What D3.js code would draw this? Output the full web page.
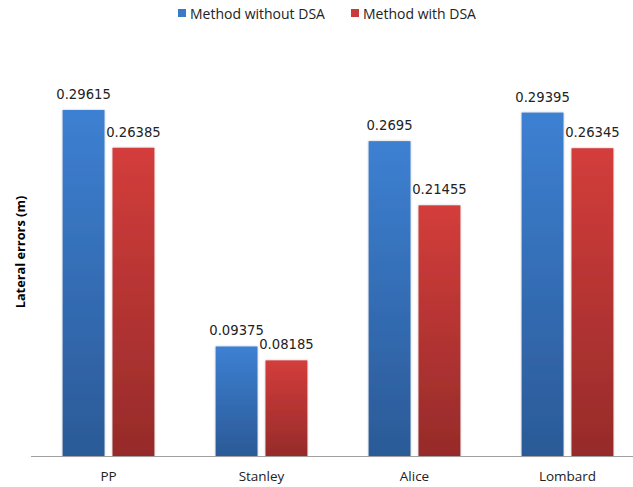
<!DOCTYPE html>
<html>
<head>
<meta charset="utf-8">
<script src="https://cdn.jsdelivr.net/npm/d3@7"></script>
<style>
  html, body { margin: 0; padding: 0; background: #fff; }
  svg { display: block; }
</style>
</head>
<body>
<svg id="chart" width="633" height="487"></svg>
<script>
const categories = ["PP", "Stanley", "Alice", "Lombard"];
const seriesNames = ["Method without DSA", "Method with DSA"];
const withoutDSA = [0.29615, 0.09375, 0.2695, 0.29395];
const withDSA = [0.26385, 0.08185, 0.21455, 0.26345];
const labelWithout = ["0.29615", "0.09375", "0.2695", "0.29395"];
const labelWith = ["0.26385", "0.08185", "0.21455", "0.26345"];

const svg = d3.select("#chart");
const W = 633, H = 487;
const baseY = 456;

const defs = svg.append("defs");
const grads = [
  {id: "gBlue", top: "#3d80d2", bot: "#2b5a97"},
  {id: "gRed", top: "#d33d3b", bot: "#962b2a"}
];
grads.forEach(g => {
  const lg = defs.append("linearGradient").attr("id", g.id)
    .attr("x1", 0).attr("y1", 0).attr("x2", 0).attr("y2", 1);
  lg.append("stop").attr("offset", "0%").attr("stop-color", g.top);
  lg.append("stop").attr("offset", "100%").attr("stop-color", g.bot);
});
const f = defs.append("filter").attr("id", "shadow")
  .attr("x", "-20%").attr("y", "-5%").attr("width", "140%").attr("height", "110%");
f.append("feDropShadow").attr("dx", 0).attr("dy", 0).attr("stdDeviation", 1.2)
  .attr("flood-color", "#000").attr("flood-opacity", 0.25);

const x0 = d3.scaleBand().domain(categories).range([32, 644])
  .paddingInner(0.4).paddingOuter(0.2);
const x1 = d3.scaleBand().domain(seriesNames).range([0, x0.bandwidth()])
  .paddingInner(0.16);
const y = d3.scaleLinear().domain([0, 0.35]).range([baseY, baseY - 0.35 * 1168.3]);

const colors = ["url(#gBlue)", "url(#gRed)"];
const swatch = ["#3a78c8", "#c93a38"];

const data = [];
categories.forEach((c, i) => {
  data.push({cat: c, s: seriesNames[0], v: withoutDSA[i], lab: labelWithout[i], k: 0});
  data.push({cat: c, s: seriesNames[1], v: withDSA[i], lab: labelWith[i], k: 1});
});

const g = svg.append("g");
g.selectAll("rect.bar").data(data).enter().append("rect")
  .attr("class", "bar")
  .attr("x", d => x0(d.cat) + x1(d.s))
  .attr("y", d => y(d.v))
  .attr("width", x1.bandwidth())
  .attr("height", d => baseY - y(d.v))
  .attr("fill", d => colors[d.k])
  .attr("filter", "url(#shadow)");

g.selectAll("text.val").data(data).enter().append("text")
  .attr("class", "val")
  .attr("x", d => x0(d.cat) + x1(d.s) + x1.bandwidth() / 2)
  .attr("y", d => y(d.v) - 11)
  .attr("text-anchor", "middle")
  .attr("font-family", "DejaVu Sans")
  .attr("font-size", 13.2)
  .attr("fill", "#222")
  .text(d => d.lab);

// baseline axis
const xAxis = d3.axisBottom(x0).tickSize(0).tickPadding(15);
const ax = svg.append("g").attr("transform", `translate(0,${baseY})`).call(xAxis);
ax.select(".domain").remove();
ax.selectAll("text").attr("font-family", "Open Sans").attr("font-size", 13.5).attr("fill", "#222");
svg.append("line").attr("x1", 31).attr("x2", W).attr("y1", baseY + 0.5).attr("y2", baseY + 0.5)
  .attr("stroke", "#a0a0a0").attr("stroke-width", 1.2);

// y title
svg.append("text")
  .attr("transform", `translate(25,252) rotate(-90)`)
  .attr("text-anchor", "middle")
  .attr("font-family", "Open Sans")
  .attr("font-weight", "bold")
  .attr("font-size", 12.8)
  .attr("fill", "#000")
  .text("Lateral errors (m)");

// legend
const legX = [178, 351];
const leg = svg.append("g");
seriesNames.forEach((s, i) => {
  leg.append("rect").attr("x", legX[i]).attr("y", 9).attr("width", 8).attr("height", 8).attr("fill", swatch[i]);
  leg.append("text").attr("x", legX[i] + 12).attr("y", 18.5)
    .attr("font-family", "Open Sans").attr("font-size", 14).attr("fill", "#222").text(s);
});
</script>
</body>
</html>
